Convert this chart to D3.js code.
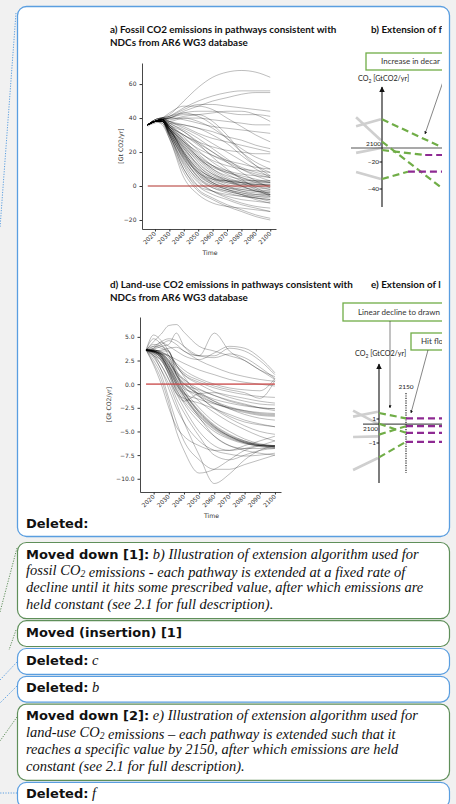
<!DOCTYPE html>
<html>
<head>
<meta charset="utf-8">
<script src="https://cdn.jsdelivr.net/npm/d3@7"></script>
<style>
  body { margin: 0; background: #f1f1f1; }
  svg { display: block; }
</style>
</head>
<body>
<div id="page"></div>
<script>
// ---- data ----
const fossilYears = [2015, 2020, 2025, 2030, 2040, 2050, 2060, 2070, 2080, 2090, 2100];
const fossilPaths = [
  [36, 38, 40, 42, 50, 58, 64, 67, 68, 67, 64],
  [36, 38, 39, 41, 46, 50, 53, 55, 56, 56, 56],
  [36, 37, 39, 40, 44, 47, 50, 52, 54, 55, 55],
  [36, 38, 40, 41, 45, 48, 48, 47, 46, 45, 44],
  [36, 38, 39, 40, 43, 44, 44, 43, 42, 42, 41],
  [36, 39, 40, 39, 41, 42, 43, 44, 44, 42, 38],
  [35, 38, 39, 38, 40, 40, 39, 38, 37, 36, 36],
  [36, 38, 40, 40, 39, 37, 35, 34, 33, 32, 31],
  [36, 38, 39, 37, 36, 34, 32, 29, 27, 24, 22],
  [36, 39, 40, 38, 35, 31, 28, 26, 24, 22, 20],
  [36, 38, 40, 43, 47, 47, 45, 40, 35, 30, 26],
  [36, 38, 39, 40, 42, 42, 38, 30, 20, 12, 6],
  [36, 38, 40, 41, 43, 41, 36, 28, 20, 14, 10],
  [36, 38, 39, 40, 40, 38, 34, 28, 22, 17, 14],
  [36, 38, 39, 38, 36, 34, 30, 25, 18, 12, 8],
  [36, 38, 38, 36, 30, 26, 23, 21, 20, 19, 19],
  [36, 38, 39, 35, 28, 22, 18, 15, 13, 11, 10],
  [36, 38, 39, 36, 32, 26, 20, 15, 11, 8, 6],
  [36, 38, 38, 34, 26, 20, 15, 12, 10, 9, 8],
  [36, 38, 39, 35, 30, 24, 18, 14, 10, 7, 5],
  [36, 39, 40, 37, 33, 28, 22, 16, 10, 6, 3],
  [36, 38, 38, 34, 25, 17, 12, 9, 7, 6, 5],
  [36, 38, 39, 36, 27, 18, 12, 8, 5, 3, 2],
  [36, 39, 40, 38, 34, 30, 25, 20, 15, 10, 5],
  [36, 38, 38, 35, 30, 25, 20, 14, 8, 3, -1],
  [36, 38, 39, 37, 32, 25, 17, 10, 4, -1, -5],
  [36, 38, 38, 34, 26, 17, 10, 5, 2, -2, -6],
  [36, 38, 38, 33, 22, 13, 7, 4, 2, 1, 0],
  [36, 38, 39, 34, 20, 10, 5, 2, 0, -1, -2],
  [36, 38, 38, 32, 18, 8, 3, 0, -2, -3, -3],
  [36, 38, 39, 35, 24, 14, 7, 3, 1, 0, -1],
  [36, 38, 38, 33, 21, 11, 4, 0, -3, -5, -6],
  [36, 38, 39, 34, 19, 7, 1, -2, -4, -5, -5],
  [36, 38, 38, 31, 16, 6, 1, -2, -4, -6, -7],
  [36, 38, 39, 33, 23, 15, 8, 3, 0, -3, -5],
  [36, 38, 38, 32, 17, 5, -1, -4, -6, -7, -8],
  [36, 38, 39, 34, 25, 16, 9, 4, 0, -3, -4],
  [36, 38, 38, 30, 14, 4, -1, -3, -5, -6, -6],
  [36, 38, 39, 33, 20, 9, 2, -2, -5, -8, -10],
  [36, 38, 38, 31, 15, 3, -3, -7, -10, -12, -13],
  [36, 38, 38, 30, 12, 0, -5, -8, -11, -13, -15],
  [36, 38, 38, 29, 10, -2, -7, -11, -14, -17, -19],
  [36, 38, 37, 28, 8, -3, -8, -12, -15, -18, -20],
  [36, 38, 37, 30, 10, 0, -3, -5, -6, -7, -8],
  [36, 38, 36, 28, 5, -5, -10, -12, -13, -14, -15],
  [36, 38, 38, 32, 19, 9, 4, 2, 1, 1, 1],
  [36, 38, 39, 34, 23, 12, 6, 3, 2, 1, 1],
  [36, 38, 38, 33, 20, 10, 5, 3, 3, 3, 3],
  [36, 38, 38, 31, 17, 8, 4, 3, 2, 2, 2],
  [36, 38, 39, 35, 26, 17, 10, 6, 4, 3, 3],
  [36, 38, 38, 32, 18, 7, 2, -1, -3, -4, -5],
  [36, 38, 39, 33, 19, 8, 2, -1, -2, -3, -4],
  [36, 38, 38, 31, 16, 5, 0, -3, -5, -7, -9],
  [36, 38, 39, 34, 22, 12, 5, 1, -1, -2, -3],
  [36, 38, 38, 30, 13, 2, -3, -6, -8, -9, -10],
  [36, 38, 39, 35, 27, 19, 12, 7, 3, 0, -2],
  [36, 38, 38, 33, 24, 16, 11, 8, 6, 4, 2],
  [36, 38, 39, 36, 29, 21, 14, 9, 5, 2, 0]
];

const landYears = [2015, 2020, 2025, 2030, 2035, 2040, 2050, 2060, 2070, 2080, 2090, 2100];
const landPaths = [
  [3.6, 5.2, 4.6, 3.5, 2.0, 0.8, -1.2, -2.6, -3.6, -4.4, -5.0, -5.3],
  [3.6, 4.8, 4.2, 3.0, 1.0, -0.5, -2.5, -4.0, -5.0, -5.8, -6.3, -6.5],
  [3.6, 3.6, 3.2, 2.0, 0.5, -0.8, -2.8, -4.3, -5.3, -6.0, -6.4, -6.6],
  [3.6, 3.5, 3.0, 1.5, 0.0, -1.2, -3.2, -4.6, -5.5, -6.1, -6.5, -6.6],
  [3.6, 3.4, 2.8, 1.2, -0.3, -1.5, -3.4, -4.8, -5.7, -6.2, -6.5, -6.7],
  [3.6, 3.5, 3.1, 2.2, 0.8, -0.2, -1.8, -3.0, -4.0, -4.8, -5.5, -6.0],
  [3.6, 3.6, 3.3, 2.5, 1.0, 0.0, -1.0, -1.8, -2.4, -2.8, -3.1, -3.2],
  [3.6, 3.4, 3.0, 2.0, 0.6, -0.3, -1.3, -2.0, -2.5, -2.8, -3.0, -3.1],
  [3.6, 3.5, 3.2, 2.4, 1.2, 0.5, -0.5, -1.2, -1.8, -2.2, -2.5, -2.6],
  [3.6, 3.6, 3.4, 2.8, 1.8, 1.0, 0.2, -0.4, -0.8, -1.1, -1.3, -1.4],
  [3.6, 3.5, 3.3, 3.0, 2.0, 1.2, 0.4, -0.2, -0.6, -0.9, -1.5, 0.4],
  [3.6, 4.2, 4.0, 3.5, 1.5, -0.5, -1.0, -1.6, -2.0, -2.3, -2.5, -2.6],
  [3.6, 3.0, 2.5, 1.0, -1.0, -1.5, -2.0, -2.6, -3.2, -3.8, -4.2, -4.5],
  [3.6, 3.2, 2.6, 1.5, -0.8, -1.8, -1.0, -0.9, -1.2, -1.5, -1.8, -2.0],
  [3.6, 3.6, 3.5, 3.5, 1.0, 0.0, -0.6, -1.2, -1.7, -2.1, -2.5, -2.8],
  [3.6, 4.5, 5.3, 6.2, 6.3, 5.5, 4.0, 3.5, 3.0, 2.5, 1.5, 0.8],
  [3.6, 4.0, 4.5, 4.8, 4.6, 4.0, 3.0, 2.8, 3.2, 2.8, 1.8, 0.6],
  [3.6, 3.8, 4.2, 4.6, 4.2, 3.5, 3.0, 5.4, 3.5, 2.5, 1.5, 0.5],
  [3.6, 3.7, 4.0, 4.2, 5.4, 4.0, 3.0, 3.0, 3.8, 3.5, 2.5, 1.0],
  [3.6, 3.8, 4.4, 4.0, 3.5, 3.0, 2.6, 3.3, 4.0, 3.8, 2.8, 1.2],
  [3.6, 3.5, 3.6, 3.8, 3.9, 3.5, 2.5, 1.8, 1.2, 0.8, 0.5, 0.3],
  [3.6, 3.4, 3.2, 3.0, 2.6, 2.2, 1.5, 1.0, 0.5, 0.2, 0.0, -0.2],
  [3.6, 2.8, 1.5, -0.5, -2.5, -4.0, -6.0, -7.0, -7.4, -7.6, -7.5, -7.3],
  [3.6, 2.5, 1.0, -1.5, -4.0, -6.0, -8.0, -9.0, -9.0, -8.5, -8.0, -7.5],
  [3.6, 2.2, 0.5, -2.0, -5.0, -7.0, -9.4, -9.0, -8.0, -7.0, -6.5, -6.0],
  [3.6, 3.0, 1.5, 0.0, -2.0, -4.0, -7.5, -10.5, -9.5, -8.0, -7.0, -6.5],
  [3.6, 3.2, 2.0, 0.5, -1.5, -3.0, -5.5, -7.5, -8.0, -7.5, -7.0, -6.8],
  [3.6, 2.0, 0.0, -2.5, -4.5, -5.5, -6.5, -7.0, -7.0, -6.5, -6.0, -5.5],
  [3.6, 3.3, 2.5, 1.2, -0.5, -2.0, -4.0, -5.5, -6.5, -7.0, -7.3, -7.5],
  [3.6, 3.0, 2.0, 0.5, -1.0, -2.5, -5.0, -6.5, -7.0, -6.8, -6.5, -6.5],
  [3.6, 3.4, 2.8, 1.8, 0.2, -1.2, -3.5, -5.5, -6.5, -6.8, -6.8, -6.7],
  [3.6, 3.5, 3.0, 2.0, 0.5, -0.8, -3.0, -4.5, -5.5, -6.2, -6.6, -6.8],
  [3.6, 3.5, 2.9, 1.6, 0.2, -1.0, -3.0, -4.5, -5.5, -6.1, -6.4, -6.5],
  [3.6, 3.4, 2.7, 1.0, -0.6, -1.8, -3.6, -5.0, -5.8, -6.3, -6.5, -6.6],
  [3.6, 3.5, 3.1, 2.3, 1.2, 0.3, -1.3, -2.5, -3.4, -4.0, -4.3, -4.5],
  [3.6, 3.5, 3.2, 2.6, 1.4, 0.5, -0.8, -1.8, -2.6, -3.2, -3.6, -3.8],
  [3.6, 4.0, 3.8, 3.4, 2.0, 1.0, 0.0, -0.8, -1.4, -1.8, -2.1, -2.2],
  [3.6, 3.6, 3.4, 3.0, 2.2, 1.5, 0.6, 0.0, -0.4, -0.6, -0.7, 0.6],
  [3.6, 3.5, 3.0, 1.8, 0.3, -0.9, -2.9, -4.4, -5.4, -6.0, -6.4, -6.5],
  [3.6, 3.4, 2.9, 1.4, -0.1, -1.3, -3.3, -4.7, -5.6, -6.2, -6.5, -6.6],
  [3.6, 3.5, 3.2, 2.4, 1.0, 0.1, -1.1, -2.0, -2.6, -3.0, -3.3, -3.4],
  [3.6, 3.3, 2.8, 1.6, 0.0, -1.0, -1.6, -2.1, -2.5, -2.9, -3.2, -3.3]
];

const xTickYears = [2020, 2030, 2040, 2050, 2060, 2070, 2080, 2090, 2100];
const fossilTicks = [-20, 0, 20, 40, 60];
const landTicks = [-10, -7.5, -5, -2.5, 0, 2.5, 5];

// schematic panels b) and e): [year, value] points
const extBGrey = [[[2052, 31], [2098, 41]], [[2052, 44], [2098, 11]], [[2052, -7], [2098, 0]], [[2052, -27.4], [2098, -32.6]]];
const extBGreen = [[[2100, 41], [2210, 1.4]], [[2100, 9], [2210, -39]], [[2100, -2.9], [2180, -10]], [[2100, -32.6], [2148, -27.2]]];
const extBPurple = [[[2180, -10], [2215, -10]], [[2148, -27.2], [2215, -27.2]]];
const extBTicks = [-20, -40];

const extEGrey = [[[2052, 1.2], [2098, 1.6]], [[2052, 1.7], [2098, 0.6]], [[2052, -0.5], [2098, -0.45]], [[2052, -3.25], [2098, -2.25]]];
const extEGreen = [[[2100, 1.5], [2150, 1.05]], [[2100, 0.6], [2150, -0.15]], [[2100, -0.3], [2150, 0.4]], [[2100, -2.2], [2150, -0.9]]];
const extEPurple = [1.05, 0.4, -0.15, -0.9];
const extETicks = [1, -1];

const titleA = ["a) Fossil CO2 emissions in pathways consistent with", "NDCs from AR6 WG3 database"];
const titleD = ["d) Land-use CO2 emissions in pathways consistent with", "NDCs from AR6 WG3 database"];
// the figure is cropped on the right: only these parts are visible
const titleB = "b) Extension of f", boxB = "Increase in decar";
const titleE = "e) Extension of l", boxE1 = "Linear decline to drawn", boxE2 = "Hit flo";

const balloons = [
  { kind: "move", label: "Moved down [1]:", lines: ["b) Illustration of extension algorithm used for", "fossil CO₂ emissions - each pathway is extended at a fixed rate of", "decline until it hits some prescribed value, after which emissions are", "held constant (see 2.1 for full description)."] },
  { kind: "move", label: "Moved (insertion) [1]", lines: [""] },
  { kind: "del", label: "Deleted:", lines: ["c"] },
  { kind: "del", label: "Deleted:", lines: ["b"] },
  { kind: "move", label: "Moved down [2]:", lines: ["e) Illustration of extension algorithm used for", "land-use CO₂ emissions – each pathway is extended such that it", "reaches a specific value by 2150, after which emissions are held", "constant (see 2.1 for full description)."] },
  { kind: "del", label: "Deleted:", lines: ["f"] }
];

// ---- drawing ----
const W = 456, H = 804;
const blue = "#5a9ee0", green = "#5f8f5a";
const svg = d3.select("#page").append("svg").attr("width", W).attr("height", H);
const defs = svg.append("defs");
defs.append("clipPath").attr("id", "imgclip").append("rect").attr("x", 18).attr("y", 7).attr("width", 424).attr("height", 520);
defs.append("marker").attr("id", "arr").attr("viewBox", "0 0 10 10").attr("refX", 9).attr("refY", 5)
  .attr("markerWidth", 5).attr("markerHeight", 5).attr("orient", "auto-start-reverse")
  .append("path").attr("d", "M0,0L10,5L0,10Z").attr("fill", "#111");

// connectors on the left margin
const conn = [
  [[16, 13], [0, 228], blue], [[17, 548], [0, 612], green], [[16, 630], [9, 650], green],
  [[17, 662], [0, 680], blue], [[17, 686], [0, 703], blue], [[17, 717], [0, 741], green], [[17, 793], [0, 793], blue]
];
svg.selectAll("line.conn").data(conn).join("line").attr("class", "conn")
  .attr("x1", d => d[0][0]).attr("y1", d => d[0][1]).attr("x2", d => d[1][0]).attr("y2", d => d[1][1])
  .attr("stroke", d => d[2]).attr("stroke-width", 1).attr("stroke-dasharray", "1.2,1.4");

// main balloon
svg.append("rect").attr("x", 17.5).attr("y", 6.5).attr("width", 432).attr("height", 530).attr("rx", 9)
  .attr("fill", "#fff").attr("stroke", blue).attr("stroke-width", 1.3);
svg.append("text").attr("x", 26).attr("y", 528).attr("font-family", "DejaVu Sans").attr("font-weight", "bold")
  .attr("font-size", 13).attr("fill", "#111").text("Deleted:");

const img = svg.append("g").attr("clip-path", "url(#imgclip)");
const fontS = "Lato, 'Open Sans', sans-serif";

function title(lines, x, y) {
  img.append("text").attr("font-family", fontS).attr("font-weight", "bold")
    .attr("font-size", 9.9).attr("fill", "#111")
    .selectAll("tspan").data(lines).join("tspan").attr("x", x).attr("y", (d, i) => y + i * 12.5).text(d => d);
}

const minus = s => String(s).replace("-", "−");

function spaghetti(years, paths, yDomain, yRange, xRange, ticks, fmt, opts) {
  const x = d3.scaleLinear().domain([2011, 2104]).range(xRange);
  const y = d3.scaleLinear().domain(yDomain).range(yRange);
  const g = img.append("g");
  const line = d3.line().x((d, i) => x(years[i])).y(d => y(d)).curve(d3.curveMonotoneX);
  g.selectAll("path.p").data(paths).join("path").attr("class", "p").attr("d", line)
    .attr("fill", "none").attr("stroke", "#000").attr("stroke-opacity", opts.alpha).attr("stroke-width", 0.8);
  g.append("line").attr("x1", x(2015)).attr("x2", x(2100)).attr("y1", y(0)).attr("y2", y(0))
    .attr("stroke", opts.red).attr("stroke-width", opts.redW);

  const ya = g.append("g").attr("transform", `translate(${xRange[0]},0)`)
    .call(d3.axisLeft(y).tickValues(ticks).tickSize(2.5).tickSizeOuter(0).tickFormat(d => minus(fmt(d))));
  const xa = g.append("g").attr("transform", `translate(0,${yRange[0]})`)
    .call(d3.axisBottom(x).tickValues(xTickYears).tickSize(2.5).tickSizeOuter(0).tickFormat(d3.format("d")));
  [ya, xa].forEach(a => {
    a.select(".domain").attr("stroke", "#333").attr("stroke-width", 0.9);
    a.selectAll(".tick line").attr("stroke", "#333");
    a.selectAll("text").attr("font-family", "DejaVu Sans").attr("font-size", 6).attr("fill", "#333");
  });
  xa.selectAll("text").attr("text-anchor", "end").attr("dy", 0).attr("y", 0)
    .attr("transform", "translate(1,5) rotate(-45)");
  g.append("text").attr("x", (xRange[0] + xRange[1]) / 2 + 1).attr("y", yRange[0] + 26).attr("text-anchor", "middle")
    .attr("font-family", "DejaVu Sans").attr("font-size", 6.2).attr("fill", "#333").text("Time");
  g.append("text").attr("transform", `translate(${opts.ylabX},${(yRange[0] + yRange[1]) / 2}) rotate(-90)`)
    .attr("text-anchor", "middle").attr("font-family", "DejaVu Sans").attr("font-size", 6.2).attr("fill", "#333")
    .text("[Gt CO2/yr]");
}

title(titleA, 110, 33);
spaghetti(fossilYears, fossilPaths, [-25.3, 72.4], [229, 63], [142, 276], fossilTicks, d3.format("d"),
  { alpha: 0.33, red: "#b0302a", redW: 1, ylabX: 123 });

title(titleD, 110, 288);
spaghetti(landYears, landPaths, [-11.4, 7.1], [492, 317], [140, 281], landTicks, d3.format(".1f"),
  { alpha: 0.33, red: "rgba(200,70,70,0.75)", redW: 1.6, ylabX: 111 });

// ---- schematic panels ----
function box(x, y, w, h, label, tx) {
  img.append("rect").attr("x", x).attr("y", y).attr("width", w).attr("height", h)
    .attr("fill", "#fff").attr("stroke", "#70ad47").attr("stroke-width", 1.3);
  img.append("text").attr("x", tx).attr("y", y + h / 2 + 2.8).attr("font-family", fontS).attr("font-size", 8)
    .attr("fill", "#333").text(label);
}
function smallText(x, y, s, anchor, size) {
  img.append("text").attr("x", x).attr("y", y).attr("text-anchor", anchor || "start").attr("font-family", fontS)
    .attr("font-size", size || 6.5).attr("fill", "#222").html(s);
}
const co2Label = "CO<tspan font-size='5' dy='1.5'>2</tspan><tspan dy='-1.5'> [GtCO2/yr]</tspan>";
function segs(data, x, y, stroke, w, dash) {
  img.append("g").selectAll("path").data(data).join("path")
    .attr("d", d3.line().x(d => x(d[0])).y(d => y(d[1])))
    .attr("fill", "none").attr("stroke", stroke).attr("stroke-width", w).attr("stroke-dasharray", dash || null);
}
function arrow(x1, y1, x2, y2) {
  img.append("line").attr("x1", x1).attr("y1", y1).attr("x2", x2).attr("y2", y2)
    .attr("stroke", "#333").attr("stroke-width", 0.6).attr("marker-end", "url(#arr)");
}

// b)
title([titleB], 371, 33);
box(366, 53, 120, 17, boxB, 381);
const xB = d3.scaleLinear().domain([2100, 2210]).range([382, 441.4]);
const yB = d3.scaleLinear().domain([-40, -20, 0, 50]).range([189, 162, 148, 113]);
smallText(358, 81, co2Label, "start", 7.2);
segs(extBGrey, xB, yB, "#cfcfcf", 2.6);
img.append("line").attr("x1", 351).attr("x2", 445).attr("y1", yB(0)).attr("y2", yB(0)).attr("stroke", "#555").attr("stroke-width", 1.2);
img.append("line").attr("x1", xB(2100)).attr("x2", xB(2100)).attr("y1", 207).attr("y2", 87)
  .attr("stroke", "#111").attr("stroke-width", 1.1).attr("marker-end", "url(#arr)");
img.selectAll("line.tb").data(extBTicks).join("line").attr("class", "tb")
  .attr("x1", xB(2100) - 2.5).attr("x2", xB(2100)).attr("y1", d => yB(d)).attr("y2", d => yB(d)).attr("stroke", "#111");
extBTicks.forEach(t => smallText(xB(2100) - 3, yB(t) + 2, minus(t), "end"));
smallText(xB(2100) - 1, yB(0) - 2, "2100", "end");
segs(extBGreen, xB, yB, "#70ad47", 2.2, "7,4");
segs(extBPurple, xB, yB, "#8e2a92", 2.2, "7,4");
arrow(446, 73, 425, 134);

// e)
title([titleE], 371, 288);
box(343, 303, 140, 18, boxE1, 358);
box(411, 333, 60, 17, boxE2, 421);
const xE = d3.scaleLinear().domain([2100, 2150]).range([379, 406]);
const yE = d3.scaleLinear().domain([-1, 1]).range([443, 419]);
const axisLevelE = 0.58;
smallText(355, 356, co2Label, "start", 7.2);
segs(extEGrey, xE, yE, "#cfcfcf", 2.6);
img.append("line").attr("x1", 363).attr("x2", 445).attr("y1", yE(axisLevelE)).attr("y2", yE(axisLevelE)).attr("stroke", "#555").attr("stroke-width", 1.2);
img.append("line").attr("x1", xE(2100)).attr("x2", xE(2100)).attr("y1", 483).attr("y2", 364)
  .attr("stroke", "#111").attr("stroke-width", 1.1).attr("marker-end", "url(#arr)");
img.selectAll("line.te").data(extETicks).join("line").attr("class", "te")
  .attr("x1", xE(2100) - 2.5).attr("x2", xE(2100)).attr("y1", d => yE(d)).attr("y2", d => yE(d)).attr("stroke", "#111");
extETicks.forEach(t => smallText(xE(2100) - 3, yE(t) + 2, minus(t), "end"));
smallText(xE(2100) - 1, yE(axisLevelE) + 7, "2100", "end");
img.append("line").attr("x1", xE(2150)).attr("x2", xE(2150)).attr("y1", 393).attr("y2", 473)
  .attr("stroke", "#111").attr("stroke-width", 1.1).attr("stroke-dasharray", "1.2,1.2");
smallText(xE(2150), 389, "2150", "middle");
segs(extEGreen, xE, yE, "#70ad47", 2.2, "7,4");
segs(extEPurple.map(v => [[2150, v], [2220, v]]), xE, yE, "#8e2a92", 2.2, "7,4");
arrow(390, 321, 390, 408);
arrow(428, 350, 411, 413);

// ---- comment balloons below ----
let yTop = 542;
balloons.forEach(b => {
  const h = 9 + 16.8 * b.lines.length;
  svg.append("rect").attr("x", 17.5).attr("y", yTop + 0.5).attr("width", 432).attr("height", h).attr("rx", 9)
    .attr("fill", "#fff").attr("stroke", b.kind === "move" ? green : blue).attr("stroke-width", 1.2);
  const t = svg.append("text").attr("x", 26).attr("y", yTop + 16.5).attr("fill", "#111");
  t.append("tspan").attr("font-family", "DejaVu Sans").attr("font-weight", "bold").attr("font-size", 13).text(b.label);
  b.lines.forEach((ln, i) => {
    const tt = i === 0 ? t : svg.append("text").attr("x", 26).attr("y", yTop + 16.5 + i * 16.8).attr("fill", "#111");
    const parts = ln.split("₂");
    parts.forEach((p, k) => {
      tt.append("tspan").attr("font-family", "'Liberation Serif', serif").attr("font-style", "italic")
        .attr("font-size", 14.5).style("white-space", "pre").text((i === 0 && k === 0 && p ? "\u00a0" : "") + p);
      if (k < parts.length - 1) {
        tt.append("tspan").attr("font-family", "'Liberation Serif', serif").attr("font-style", "italic")
          .attr("font-size", 9.5).attr("dy", 2).text("2");
        tt.append("tspan").attr("dy", -2).text("");
      }
    });
  });
  yTop += h + 2;
});
</script>
</body>
</html>
